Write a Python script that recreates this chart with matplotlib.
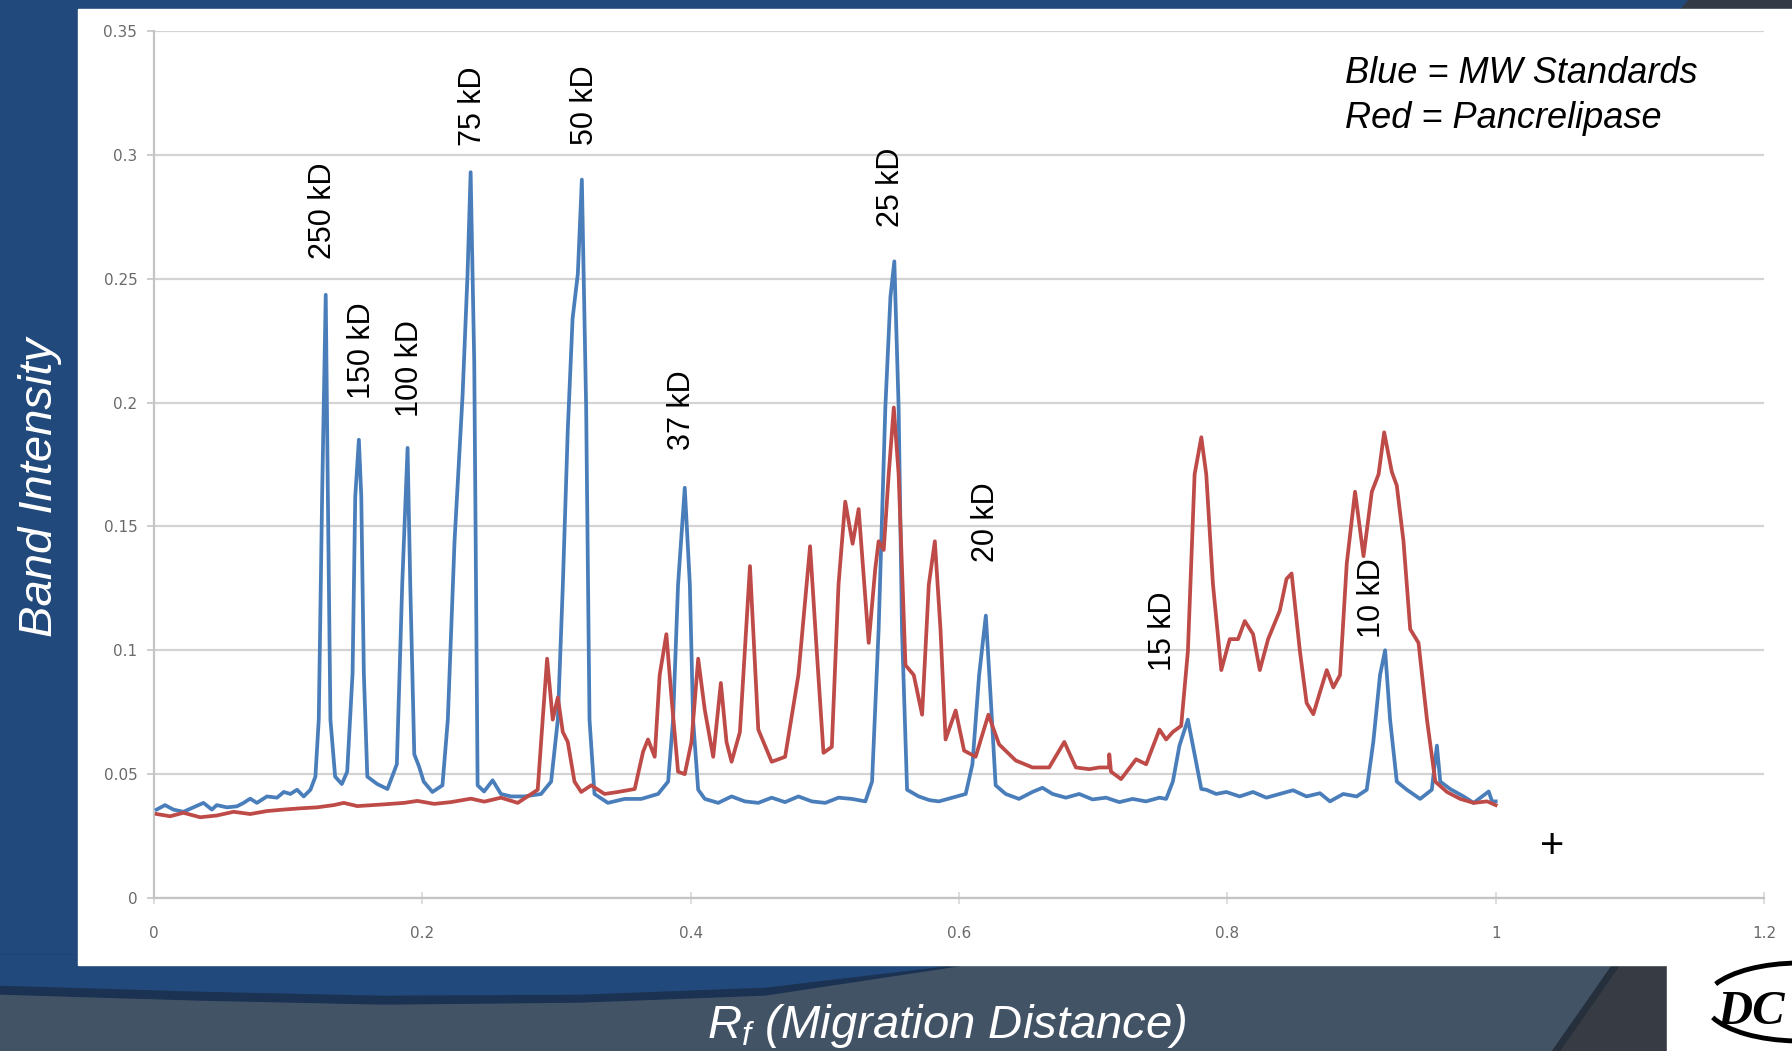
import matplotlib
matplotlib.use("Agg")
import matplotlib.pyplot as plt
from matplotlib.patches import Polygon, Rectangle, Arc

plt.rcParams['mathtext.fontset'] = 'custom'
plt.rcParams['mathtext.it'] = 'Liberation Sans:italic'
plt.rcParams['mathtext.rm'] = 'Liberation Sans:italic'

# ---------------- data ----------------
blue_x = [0.002, 0.0082, 0.0144, 0.0219, 0.0294, 0.0369, 0.0431, 0.0468, 0.0543, 0.0618,
          0.0668, 0.0717, 0.0767, 0.0842, 0.0917, 0.0967, 0.1017, 0.1066, 0.1116, 0.1166,
          0.1203, 0.1228, 0.1253, 0.128, 0.1296, 0.1315, 0.135, 0.140, 0.144, 0.148,
          0.150, 0.1527, 0.1545, 0.1564, 0.159, 0.1664, 0.174, 0.181, 0.185, 0.189,
          0.191, 0.194, 0.1976, 0.201, 0.2075, 0.215, 0.219, 0.224, 0.230, 0.2337,
          0.236, 0.2387, 0.2412, 0.246, 0.2524, 0.2586, 0.266, 0.276, 0.2885, 0.296,
          0.301, 0.3047, 0.3084, 0.312, 0.3159, 0.3189, 0.3221, 0.3246, 0.3283, 0.3383,
          0.3508, 0.3632, 0.3757, 0.3832, 0.3869, 0.3906, 0.3956, 0.3994, 0.4018, 0.4056,
          0.4106, 0.4205, 0.4305, 0.4404, 0.4504, 0.4604, 0.4703, 0.4803, 0.4903, 0.5003,
          0.5102, 0.5202, 0.5302, 0.5352, 0.5401, 0.5451, 0.5489, 0.5518, 0.555, 0.5575,
          0.5613, 0.570, 0.578, 0.585, 0.595, 0.605, 0.610, 0.615, 0.620, 0.6236,
          0.6273, 0.6348, 0.6447, 0.6547, 0.6622, 0.6697, 0.6796, 0.6896, 0.6995, 0.7095,
          0.7195, 0.7294, 0.7394, 0.7494, 0.7544, 0.7594, 0.7643, 0.7706, 0.7756, 0.7806,
          0.7843, 0.7917, 0.7992, 0.8092, 0.8191, 0.8291, 0.8391, 0.849, 0.859, 0.869,
          0.8765, 0.8864, 0.8964, 0.9039, 0.9088, 0.9138, 0.9176, 0.9213, 0.9263, 0.9338,
          0.9437, 0.9524, 0.9562, 0.9587, 0.9661, 0.9761, 0.9836, 0.9948, 0.9973, 1.000]
blue_y = [0.0357, 0.0375, 0.0357, 0.0348, 0.0366, 0.0384, 0.0357, 0.0375, 0.0366, 0.037,
          0.0384, 0.0401, 0.0384, 0.041, 0.0405, 0.0428, 0.042, 0.0437, 0.041, 0.0437,
          0.049, 0.072, 0.162, 0.2435, 0.162, 0.072, 0.049, 0.046, 0.051, 0.0907,
          0.162, 0.185, 0.162, 0.0907, 0.049, 0.046, 0.044, 0.054, 0.1265, 0.1817,
          0.1265, 0.058, 0.053, 0.047, 0.0428, 0.0455, 0.072, 0.144, 0.203, 0.252,
          0.293, 0.2158, 0.0455, 0.043, 0.0475, 0.042, 0.041, 0.041, 0.042, 0.047,
          0.072, 0.126, 0.189, 0.234, 0.252, 0.290, 0.198, 0.072, 0.042, 0.0384,
          0.040, 0.040, 0.042, 0.047, 0.072, 0.1265, 0.1656, 0.1265, 0.072, 0.0437,
          0.040, 0.0384, 0.041, 0.039, 0.0384, 0.0405, 0.0387, 0.041, 0.039, 0.0384,
          0.0405, 0.040, 0.039, 0.047, 0.1085, 0.198, 0.2427, 0.257, 0.198, 0.1085,
          0.0437, 0.041, 0.0395, 0.039, 0.0405, 0.042, 0.054, 0.090, 0.114, 0.081,
          0.0455, 0.042, 0.040, 0.0428, 0.0445, 0.042, 0.0405, 0.042, 0.0398, 0.0405,
          0.0387, 0.040, 0.039, 0.0405, 0.040, 0.047, 0.0615, 0.072, 0.058, 0.044,
          0.0437, 0.042, 0.0428, 0.041, 0.0428, 0.0405, 0.042, 0.0435, 0.041, 0.0423,
          0.039, 0.042, 0.041, 0.0437, 0.063, 0.090, 0.100, 0.072, 0.047, 0.0437,
          0.040, 0.0437, 0.0615, 0.047, 0.044, 0.041, 0.0384, 0.043, 0.039, 0.039]

red_x = [0.002, 0.012, 0.0219, 0.0344, 0.0468, 0.0593, 0.0717, 0.0842, 0.0967, 0.1091,
         0.1216, 0.134, 0.1415, 0.1515, 0.1714, 0.1864, 0.1963, 0.2088, 0.2212, 0.2362,
         0.2462, 0.2586, 0.2711, 0.286, 0.2897, 0.293, 0.2972, 0.301, 0.3047, 0.3084,
         0.3134, 0.3184, 0.3259, 0.3358, 0.3458, 0.3583, 0.3645, 0.3682, 0.3732, 0.3769,
         0.3819, 0.3857, 0.3906, 0.3956, 0.4006, 0.4056, 0.4105, 0.4168, 0.4225, 0.4267,
         0.4305, 0.4367, 0.4442, 0.4504, 0.4604, 0.4704, 0.4803, 0.489, 0.494, 0.499,
         0.5052, 0.5102, 0.5152, 0.5207, 0.5252, 0.5327, 0.5376, 0.5401, 0.5439, 0.5476,
         0.5514, 0.555, 0.5601, 0.5663, 0.5725, 0.5775, 0.582, 0.5862, 0.590, 0.5975,
         0.6038, 0.6124, 0.6219, 0.6299, 0.6423, 0.6548, 0.6672, 0.6785, 0.6871, 0.6971,
         0.7046, 0.7118, 0.7120, 0.7133, 0.7208, 0.732, 0.7395, 0.7494, 0.7544, 0.7593,
         0.7656, 0.7706, 0.7756, 0.7806, 0.7843, 0.7893, 0.7955, 0.8018, 0.808, 0.813,
         0.8192, 0.8242, 0.8304, 0.8391, 0.8441, 0.8479, 0.8541, 0.8591, 0.8641, 0.8691,
         0.8741, 0.879, 0.884, 0.889, 0.8952, 0.9015, 0.9077, 0.9127, 0.9169, 0.9226,
         0.9263, 0.9313, 0.9363, 0.9425, 0.9488, 0.955, 0.9637, 0.9736, 0.9836, 0.9936,
         1.000]
red_y = [0.0339, 0.033, 0.0344, 0.0326, 0.0333, 0.0348, 0.0339, 0.0351, 0.0357, 0.0362,
         0.0366, 0.0375, 0.0384, 0.0371, 0.0378, 0.0384, 0.0392, 0.038, 0.0387, 0.0401,
         0.0389, 0.0405, 0.0384, 0.0437, 0.072, 0.0966, 0.072, 0.081, 0.067, 0.063,
         0.047, 0.0428, 0.0455, 0.042, 0.0428, 0.044, 0.059, 0.064, 0.057, 0.090,
         0.1065, 0.081, 0.051, 0.050, 0.063, 0.0966, 0.076, 0.057, 0.0868, 0.063,
         0.055, 0.067, 0.134, 0.068, 0.055, 0.057, 0.090, 0.142, 0.0995, 0.0586,
         0.061, 0.1265, 0.160, 0.143, 0.157, 0.103, 0.133, 0.144, 0.1405, 0.171,
         0.198, 0.171, 0.094, 0.090, 0.074, 0.1265, 0.144, 0.1085, 0.064, 0.0757,
         0.0595, 0.057, 0.074, 0.062, 0.0555, 0.0527, 0.0527, 0.063, 0.0527, 0.052,
         0.0527, 0.0527, 0.058, 0.051, 0.048, 0.056, 0.054, 0.068, 0.064, 0.067,
         0.0695, 0.0996, 0.171, 0.186, 0.171, 0.1265, 0.092, 0.1045, 0.1045, 0.1118,
         0.1065, 0.092, 0.1045, 0.116, 0.1288, 0.131, 0.0996, 0.0787, 0.0742, 0.0832,
         0.092, 0.085, 0.090, 0.135, 0.164, 0.138, 0.164, 0.171, 0.188, 0.172,
         0.1665, 0.144, 0.1085, 0.103, 0.072, 0.047, 0.0428, 0.040, 0.0384, 0.039,
         0.0375]

band_labels = ["250 kD", "150 kD", "100 kD", "75 kD", "50 kD", "37 kD",
               "25 kD", "20 kD", "15 kD", "10 kD"]
band_label_x = [0.1256, 0.1547, 0.1906, 0.2377, 0.3214, 0.3939, 0.5494, 0.6203, 0.7519, 0.908]
band_label_y = [0.258, 0.2015, 0.194, 0.3036, 0.304, 0.181, 0.271, 0.1357, 0.0916, 0.105]

x_ticks = [0, 0.2, 0.4, 0.6, 0.8, 1.0, 1.2]
x_tick_labels = ["0", "0.2", "0.4", "0.6", "0.8", "1", "1.2"]
y_ticks = [0, 0.05, 0.1, 0.15, 0.2, 0.25, 0.3, 0.35]
y_tick_labels = ["0", "0.05", "0.1", "0.15", "0.2", "0.25", "0.3", "0.35"]

# ---------------- figure & slide background ----------------
W, H = 1792, 1051
fig = plt.figure(figsize=(W / 100, H / 100), dpi=100)
bg = fig.add_axes([0, 0, 1, 1])
bg.set_xlim(0, W)
bg.set_ylim(H, 0)
bg.axis('off')

BLUE_BG = '#22497b'
bg.add_patch(Rectangle((0, 0), W, H, color=BLUE_BG, zorder=0))
bg.add_patch(Rectangle((0, 965), 1667, 90, color='#435366', zorder=1))
# dark right corner with diagonal edge
bg.add_patch(Polygon([(1613, 965), (1667, 965), (1667, 1051), (1553, 1051)],
                     closed=True, color='#373c44', zorder=2))
bg.plot([1616, 1556], [965, 1051], color='#26303c', lw=5, zorder=3)
# top-right dark corner
bg.add_patch(Polygon([(1688, 0), (W, 0), (W, 10), (1680, 10)], closed=True,
                     color='#333a45', zorder=2))
# swoosh: navy stripe then blue
bg.add_patch(Polygon([(0, 955), (1000, 955), (957, 966), (765, 995), (580, 1002),
                      (383, 1004), (200, 1000), (0, 994)], closed=True,
                     color='#1b3252', zorder=2))
bg.add_patch(Polygon([(0, 955), (1000, 955), (935, 967), (765, 987), (580, 994),
                      (383, 995), (200, 991), (0, 985)], closed=True,
                     color=BLUE_BG, zorder=3))
# white chart panel
bg.add_patch(Rectangle((78, 9), W - 78, 956, color='white', zorder=4))

# logo
bg.add_patch(Rectangle((1667, 963), 125, 88, color='white', zorder=5))
bg.add_patch(Arc((1800, 1002), 190, 78, theta1=97, theta2=170, color='black', lw=3.5, zorder=6))
bg.add_patch(Arc((1800, 1002), 190, 78, theta1=192, theta2=268, color='black', lw=3.5, zorder=6))
bg.text(1717, 1024, "DC", fontsize=35, family='Liberation Serif', style='italic',
        weight='bold', color='black', ha='left', va='baseline', zorder=7)

# slide texts
bg.text(40, 487, "Band Intensity", fontsize=34, family='Liberation Sans', style='italic',
        color='white', rotation=90, ha='center', va='center', zorder=8)
bg.text(947, 1038, r"$R_f$ (Migration Distance)", fontsize=34, family='Liberation Sans',
        style='italic', color='white', ha='center', va='baseline', zorder=8)
bg.text(1345, 83, "Blue = MW Standards", fontsize=26, family='Liberation Sans',
        style='italic', color='black', ha='left', va='baseline', zorder=8)
bg.text(1345, 128, "Red = Pancrelipase", fontsize=26, family='Liberation Sans',
        style='italic', color='black', ha='left', va='baseline', zorder=8)

# ---------------- chart ----------------
ax = fig.add_axes([154 / W, 1 - 898 / H, (1764 - 154) / W, (898 - 31) / H])
ax.patch.set_visible(False)
ax.set_xlim(0, 1.2)
ax.set_ylim(0, 0.35)

ax.plot(blue_x, blue_y, color='#4a7ebb', lw=2.7, zorder=3, solid_joinstyle='round')
ax.plot(red_x, red_y, color='#be4b48', lw=2.7, zorder=4, solid_joinstyle='round')

ax.set_xticks(x_ticks)
ax.set_xticklabels(x_tick_labels)
ax.set_yticks(y_ticks)
ax.set_yticklabels(y_tick_labels)
ax.yaxis.grid(True, color='#d3d3d3', lw=1.6, zorder=0)
ax.set_axisbelow(True)
for s in ['top', 'right']:
    ax.spines[s].set_visible(False)
for s in ['left', 'bottom']:
    ax.spines[s].set_color('#c4c4c4')
    ax.spines[s].set_linewidth(1.6)
ax.tick_params(axis='y', direction='out', length=5, width=1.2, color='#c4c4c4',
               labelsize=11, labelcolor='#6a6a6a', pad=7)
ax.tick_params(axis='x', direction='inout', length=9, width=1.2, color='#d8d8d8',
               labelsize=11, labelcolor='#6a6a6a', pad=16)

for lab, lx, ly in zip(band_labels, band_label_x, band_label_y):
    ax.text(lx, ly, lab, rotation=90, fontsize=22, family='Liberation Sans',
            color='black', ha='center', va='bottom', zorder=6)

ax.text(1.042, 0.0206, "+", fontsize=30, family='Liberation Sans', color='black',
        ha='center', va='center', zorder=6)

fig.savefig("out.png", dpi=100)
